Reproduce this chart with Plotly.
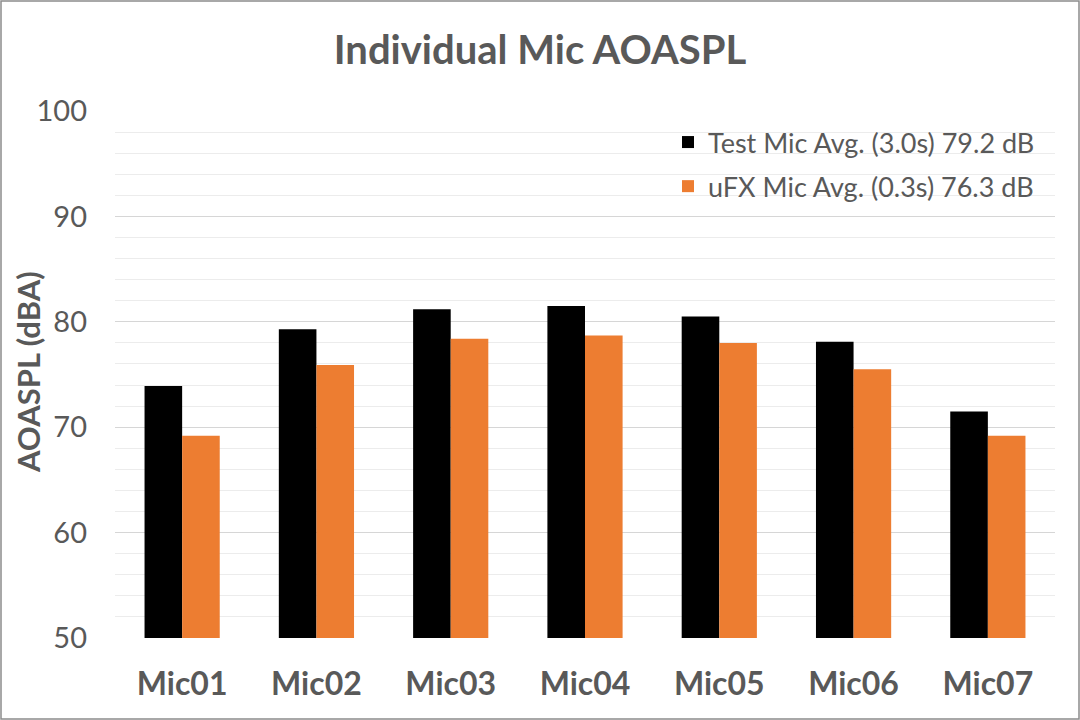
import plotly.graph_objects as go

categories = ["Mic01", "Mic02", "Mic03", "Mic04", "Mic05", "Mic06", "Mic07"]
test_mic = [73.9, 79.3, 81.2, 81.5, 80.5, 78.1, 71.5]
ufx_mic = [69.2, 75.9, 78.4, 78.7, 78.0, 75.5, 69.2]
series_names = ["Test Mic Avg. (3.0s) 79.2 dB", "uFX Mic Avg. (0.3s) 76.3 dB"]
y_ticks = [50, 60, 70, 80, 90, 100]

W, H = 1080, 720
L, R, T, B = 115, 25, 111, 82
pw, ph = W - L - R, H - T - B
FONT = "Lato"
GRAY = "#595959"

fig = go.Figure()
fig.add_trace(go.Bar(x=categories, y=test_mic, name=series_names[0], legendgroup="a",
                     marker=dict(color="#000000", line=dict(width=0))))
fig.add_trace(go.Bar(x=categories, y=ufx_mic, name=series_names[1], legendgroup="b",
                     marker=dict(color="#ED7D31", line=dict(width=0))))

# white backing behind legend
fig.add_shape(type="rect", xref="paper", yref="paper", layer="below",
              x0=(638 - L) / pw, x1=(1042 - L) / pw,
              y0=(H - B - 207) / ph, y1=(H - B - 120) / ph,
              fillcolor="white", line=dict(width=0))
# outer border
fig.add_shape(type="rect", xref="paper", yref="paper",
              x0=(1 - L) / pw, x1=(W - 1 - L) / pw,
              y0=-(B - 1) / ph, y1=(H - B - 1) / ph,
              line=dict(color="#8c8c8c", width=1.5), fillcolor="rgba(0,0,0,0)")

# y-axis title as rotated annotation
fig.add_annotation(text="<b>AOASPL (dBA)</b>", textangle=-90, showarrow=False,
                   xref="paper", yref="paper", x=(28 - L) / pw, xanchor="center",
                   y=(H - B - 372) / ph, yanchor="middle",
                   font=dict(size=31, color=GRAY, family=FONT))

fig.update_layout(
    width=W, height=H,
    margin=dict(l=L, r=R, t=T, b=B, autoexpand=False),
    paper_bgcolor="white", plot_bgcolor="white",
    barmode="group", bargap=0.44, bargroupgap=0,
    font=dict(family=FONT, color=GRAY),
    title=dict(text="<b>Individual Mic AOASPL</b>", x=0.5, xanchor="center",
               y=1 - 50 / H, yanchor="middle",
               font=dict(size=40, color=GRAY, family=FONT)),
    legend=dict(x=(1040 - L) / pw, xanchor="right", y=(H - B - 118) / ph, yanchor="top",
                bgcolor="rgba(0,0,0,0)", font=dict(size=27, color=GRAY, family=FONT),
                tracegroupgap=6, itemwidth=30),
    showlegend=True,
    xaxis=dict(showgrid=False, showline=False, ticks="", zeroline=False, automargin=False,
               tickfont=dict(size=32, color=GRAY, family=FONT, weight="bold"),
               ticklabelstandoff=24),
    yaxis=dict(range=[50, 100], tickvals=y_ticks, showline=False, ticks="",
               zeroline=False, automargin=False,
               showgrid=True, gridcolor="#d6d6d6", gridwidth=1.3,
               minor=dict(dtick=2, showgrid=True, gridcolor="#ececec", gridwidth=1.3),
               tickfont=dict(size=29, color=GRAY, family=FONT),
               ticklabelstandoff=27),
)

fig.write_html("out.html", config={"displayModeBar": False},
               post_script="document.body.style.margin='0';document.body.style.overflow='hidden';")
